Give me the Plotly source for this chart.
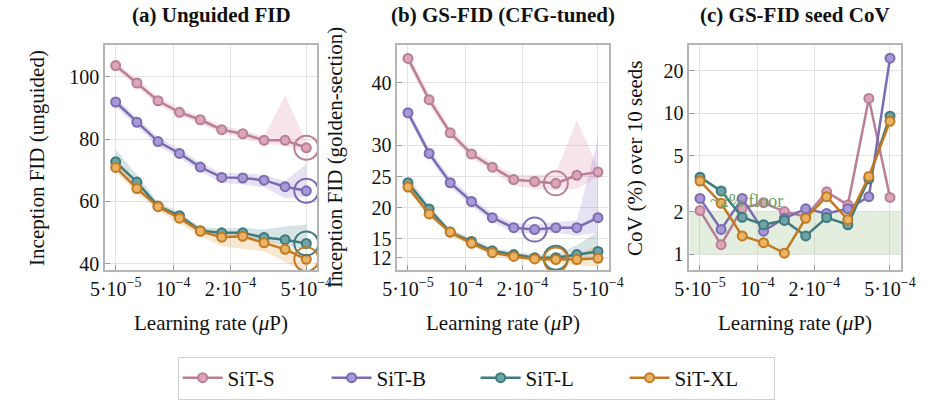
import plotly.graph_objects as go
import math

# ---------------- data ----------------
LR = [5.0e-5, 6.46e-5, 8.34e-5, 1.08e-4, 1.39e-4, 1.80e-4, 2.32e-4, 3.0e-4, 3.87e-4, 5.0e-4]
models = ["SiT-S", "SiT-B", "SiT-L", "SiT-XL"]

# (a) unguided FID
S_a = [103.6, 98.0, 92.3, 88.6, 86.2, 83.0, 81.7, 79.6, 79.6, 77.2]
S_a_lo = [102.3, 96.7, 91.0, 87.3, 85.0, 81.8, 80.4, 78.3, 78.0, 75.8]
S_a_hi = [104.8, 99.3, 93.6, 89.9, 87.4, 84.3, 83.0, 80.8, 94.0, 79.0]
B_a = [91.9, 85.4, 79.2, 75.4, 71.0, 67.7, 67.5, 66.8, 64.7, 63.4]
B_a_lo = [90.3, 84.0, 77.8, 74.0, 69.5, 66.0, 65.5, 64.5, 61.0, 61.5]
B_a_hi = [93.3, 86.8, 80.6, 76.8, 72.4, 69.0, 69.0, 68.5, 66.5, 72.0]
L_a = [72.7, 66.2, 58.5, 55.4, 50.6, 49.9, 49.9, 48.4, 47.7, 46.5]
L_a_lo = [70.5, 64.5, 57.5, 54.3, 49.5, 48.8, 48.5, 47.0, 46.0, 44.5]
L_a_hi = [76.7, 68.5, 59.7, 56.5, 51.8, 51.2, 51.5, 51.0, 52.0, 52.5]
XL_a = [70.9, 64.1, 58.3, 54.6, 50.4, 48.5, 48.8, 46.7, 44.6, 41.4]
XL_a_lo = [69.5, 62.5, 57.0, 53.0, 48.8, 45.5, 44.8, 44.0, 40.5, 37.0]
XL_a_hi = [72.3, 65.5, 59.5, 55.8, 51.6, 49.8, 50.0, 48.0, 46.0, 43.0]
best_a = [9, 9, 9, 9]

# (b) GS-FID (CFG-tuned)
S_b = [43.9, 37.3, 32.0, 28.6, 26.5, 24.5, 24.2, 23.9, 25.2, 25.7]
S_b_lo = [43.0, 36.5, 31.3, 28.0, 25.8, 23.5, 23.0, 22.8, 23.0, 25.0]
S_b_hi = [44.8, 38.2, 32.8, 29.3, 27.2, 25.3, 25.2, 25.5, 34.0, 26.5]
B_b = [35.2, 28.7, 24.0, 21.0, 18.4, 16.8, 16.5, 16.8, 16.8, 18.4]
B_b_lo = [34.5, 28.0, 23.3, 20.3, 17.7, 16.0, 15.8, 16.0, 15.5, 16.0]
B_b_hi = [36.0, 29.5, 24.8, 21.7, 19.1, 17.6, 17.3, 17.6, 18.0, 31.0]
L_b = [24.0, 19.8, 16.1, 14.6, 13.1, 12.5, 12.0, 12.0, 12.5, 13.0]
L_b_lo = [23.4, 19.3, 15.6, 14.1, 12.6, 12.0, 11.5, 11.4, 11.8, 12.3]
L_b_hi = [25.0, 20.4, 16.6, 15.1, 13.6, 13.0, 12.5, 12.6, 14.0, 16.1]
XL_b = [23.3, 19.0, 16.1, 14.3, 12.8, 12.2, 11.8, 11.7, 11.7, 11.9]
XL_b_lo = [22.7, 18.5, 15.6, 13.8, 12.3, 11.7, 11.3, 11.0, 10.8, 10.5]
XL_b_hi = [23.9, 19.5, 16.6, 14.8, 13.3, 12.7, 12.3, 12.3, 12.5, 14.0]
best_b = [7, 6, 7, 7]

# (c) GS-FID seed CoV (%)
S_c = [2.04, 1.17, 2.12, 2.32, 2.01, 1.85, 2.77, 2.24, 12.7, 2.53]
B_c = [2.49, 1.50, 2.49, 1.46, 1.80, 2.10, 1.95, 2.10, 2.56, 24.5]
L_c = [3.52, 2.81, 1.83, 1.62, 1.74, 1.35, 1.82, 1.62, 3.43, 9.5]
XL_c = [3.30, 2.30, 1.35, 1.21, 1.02, 1.80, 2.56, 1.76, 3.56, 8.75]
floor_lo, floor_hi = 1.0, 2.0

x_tickvals = [5e-5, 1e-4, 2e-4, 5e-4]
x_ticktext = ["5·10<sup>−5</sup>", "10<sup>−4</sup>", "2·10<sup>−4</sup>", "5·10<sup>−4</sup>"]
ya_ticks = [40, 60, 80, 100]
yb_ticks = [12, 15, 20, 25, 30, 40]
yc_ticks = [1, 2, 5, 10, 20]

# ---------------- style ----------------
line_col = ["#b97f97", "#7b6bb3", "#3e7a7e", "#c27a22"]
fill_col = ["#dba6ba", "#a999d6", "#6ea3a6", "#ebb465"]
band_col = ["rgba(215,130,160,0.22)", "rgba(140,120,200,0.22)",
            "rgba(70,130,135,0.22)", "rgba(225,150,50,0.22)"]
FONT = "Times New Roman, Liberation Serif, DejaVu Serif, serif"
FONT_T = "serif"
FONT_L = "Liberation Serif"

W, H = 935, 400
def px(x0, x1):
    return [x0 / W, x1 / W]
dom_x = [px(93, 312), px(395, 613.3), px(696.7, 915)]
dom_y = [1 - 274 / H, 1 - 46 / H]
xr = [math.log10(5e-5) - 0.056, math.log10(5e-4) + 0.056]

fig = go.Figure()

panels = [
    ([S_a, B_a, L_a, XL_a], [S_a_lo, B_a_lo, L_a_lo, XL_a_lo], [S_a_hi, B_a_hi, L_a_hi, XL_a_hi], best_a),
    ([S_b, B_b, L_b, XL_b], [S_b_lo, B_b_lo, L_b_lo, XL_b_lo], [S_b_hi, B_b_hi, L_b_hi, XL_b_hi], best_b),
    ([S_c, B_c, L_c, XL_c], None, None, None),
]

axnames = [("x", "y"), ("x2", "y2"), ("x3", "y3")]

fig.add_trace(go.Scatter(
    x=[10 ** xr[0], 10 ** xr[1], 10 ** xr[1], 10 ** xr[0]],
    y=[floor_lo, floor_lo, floor_hi, floor_hi],
    fill="toself", fillcolor="rgba(150,190,130,0.26)", mode="lines",
    line=dict(width=0), showlegend=False, hoverinfo="skip",
    xaxis="x3", yaxis="y3"))

for p, (vals, los, his, best) in enumerate(panels):
    xa, ya = axnames[p]
    if los is not None:
        for i in range(4):
            fig.add_trace(go.Scatter(
                x=LR + LR[::-1], y=his[i] + los[i][::-1],
                fill="toself", fillcolor=band_col[i], mode="lines",
                line=dict(width=0), showlegend=False, hoverinfo="skip",
                xaxis=xa, yaxis=ya))
    for i in range(4):
        fig.add_trace(go.Scatter(
            x=LR, y=vals[i], mode="lines+markers", name=models[i],
            line=dict(color=line_col[i], width=2.5),
            marker=dict(size=9, color=fill_col[i], line=dict(color=line_col[i], width=2)),
            showlegend=(p == 0), legendgroup=models[i],
            xaxis=xa, yaxis=ya))
    if best is not None:
        for i in range(4):
            k = best[i]
            fig.add_trace(go.Scatter(
                x=[LR[k]], y=[vals[i][k]], mode="markers",
                marker=dict(size=24, symbol="circle-open", color=line_col[i],
                            line=dict(color=line_col[i], width=2)),
                showlegend=False, hoverinfo="skip", xaxis=xa, yaxis=ya))

axis_common = dict(showline=True, mirror=True, linecolor="#b5b5b5", linewidth=1.5,
                   showgrid=True, gridcolor="#e3e3e3", gridwidth=1,
                   ticks="inside", ticklen=5, tickcolor="#9a9a9a", zeroline=False,
                   tickfont=dict(family=FONT_T, size=20, color="#111"))

layout = dict(
    width=W, height=H, margin=dict(l=0, r=0, t=0, b=0),
    paper_bgcolor="white", plot_bgcolor="white",
    font=dict(family=FONT, color="#111"),
    showlegend=True,
    legend=dict(orientation="h", x=168 / W, y=1 - 362 / H, xanchor="left", yanchor="top",
                bordercolor="#d0d0d0", borderwidth=1, bgcolor="white",
                font=dict(family=FONT_L, size=21, color="#111"),
                entrywidth=94, entrywidthmode="pixels", itemwidth=40,
                tracegroupgap=0),
)
yspecs = [
    dict(type="linear", range=[38, 110.1], tickvals=ya_ticks),
    dict(type="linear", range=[10.05, 46], tickvals=yb_ticks),
    dict(type="log", range=[-0.11, 1.48], tickvals=yc_ticks, ticktext=[str(v) for v in yc_ticks]),
]
for p in range(3):
    xk = "xaxis" if p == 0 else f"xaxis{p+1}"
    yk = "yaxis" if p == 0 else f"yaxis{p+1}"
    layout[xk] = dict(axis_common, type="log", range=xr, domain=dom_x[p],
                      tickvals=x_tickvals, ticktext=x_ticktext,
                      anchor="y" if p == 0 else f"y{p+1}")
    layout[yk] = dict(axis_common, domain=dom_y, anchor="x" if p == 0 else f"x{p+1}", **yspecs[p])
fig.update_layout(**layout)

titles = ["(a) Unguided FID", "(b) GS-FID (CFG-tuned)", "(c) GS-FID seed CoV"]
ytitles = ["Inception FID (unguided)", "Inception FID (golden-section)", "CoV (%) over 10 seeds"]
ytitle_x = [22, 330, 640]
ann = []
for p in range(3):
    cx = (dom_x[p][0] + dom_x[p][1]) / 2
    ann.append(dict(text=f"<b>{titles[p]}</b>", x=cx, y=1 - 15 / H, xref="paper", yref="paper",
                    showarrow=False, xanchor="center", yanchor="middle",
                    font=dict(family=FONT, size=21, color="#111")))
    ann.append(dict(text="Learning rate (<i>μ</i>P)", x=cx, y=1 - 328 / H, xref="paper", yref="paper",
                    showarrow=False, xanchor="center", yanchor="middle",
                    font=dict(family=FONT, size=21, color="#111")))
    ann.append(dict(text=ytitles[p], x=ytitle_x[p] / W, y=1 - 160 / H, xref="paper", yref="paper",
                    showarrow=False, xanchor="center", yanchor="middle", textangle=-90,
                    font=dict(family=FONT, size=21, color="#111")))
ann.append(dict(text="~2% floor", x=716 / W, y=1 - 204 / H, xref="paper", yref="paper",
                showarrow=False, xanchor="left", yanchor="middle",
                font=dict(family=FONT, size=18, color="#6f9d5e")))
fig.update_layout(annotations=ann)

fig.write_html("out.html")
